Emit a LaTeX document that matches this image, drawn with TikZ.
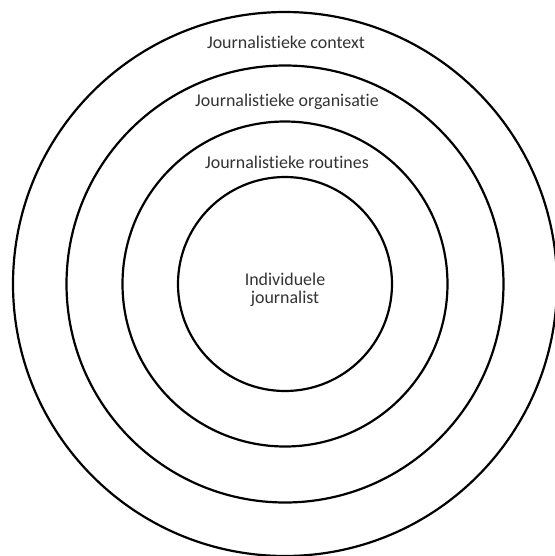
\documentclass[tikz,border=0pt]{standalone}
\usepackage{fontspec}
\setmainfont{Carlito}[Ligatures={NoCommon}]
\usepackage{tikz}

\tikzset{
    ring/.style={draw, line width=1.25pt},
    layer/.style={text=black!80, font=\fontsize{10.2}{10}\selectfont, align=center}
}

\begin{document}
\begin{tikzpicture}[x=0.02cm, y=-0.02cm]
    \useasboundingbox (0,0) rectangle (555,556);
    \coordinate (centre) at (285,284);

    \draw[ring] (centre) circle (272);
    \draw[ring] (centre) circle (218.5);
    \draw[ring] (centre) circle (162.5);
    \draw[ring] (centre) circle (107);

    \node (context) [layer] at (286,42) {Journalistieke context};
    \node (organisation) [layer] at (287,102) {Journalistieke organisatie};
    \node (routines) [layer] at (287,162) {Journalistieke routines};
    \node (individual) [layer] at (285,290) {Individuele\\journalist};
\end{tikzpicture}
\end{document}
